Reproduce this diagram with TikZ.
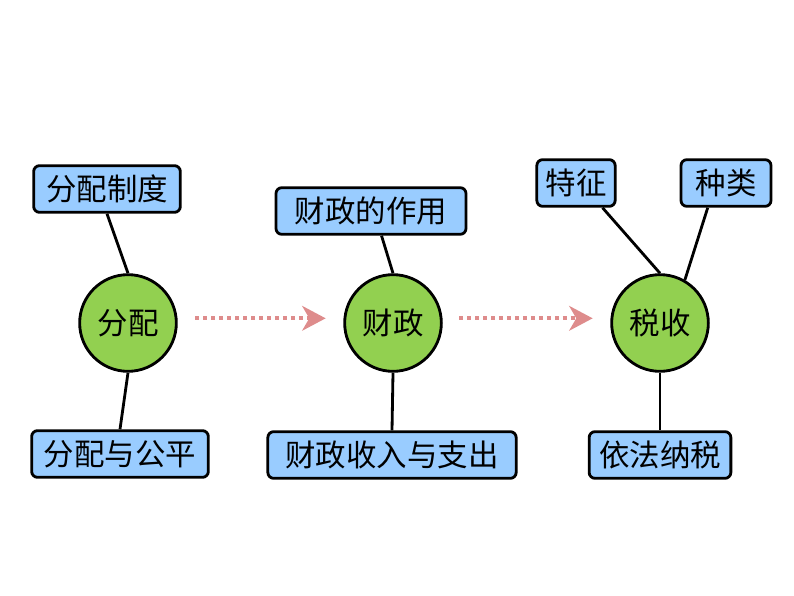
\documentclass[tikz,border=0pt]{standalone}
\usepackage{fontspec}
\setmainfont{Noto Sans CJK SC}
\usetikzlibrary{arrows.meta}
\definecolor{topicgreen}{RGB}{146,208,80}
\definecolor{itemblue}{RGB}{153,204,255}
\definecolor{flowpink}{RGB}{222,140,140}

\begin{document}
\begin{tikzpicture}[x=0.03cm, y=-0.03cm,
    topic/.style={circle, draw, line width=2.4pt, fill=topicgreen, minimum size=2.9cm, inner sep=0pt, font=\fontsize{26}{26}\selectfont},
    item/.style={rectangle, draw, rounded corners=5pt, line width=2.4pt, fill=itemblue, minimum height=1.4cm, inner sep=2pt, font=\fontsize{26}{26}\selectfont},
    link/.style={line width=2.4pt},
    flow/.style={flowpink, line width=3.4pt, dash pattern=on 3.4pt off 3.4pt, -{Stealth[length=20pt, width=21pt, inset=6pt]}}]
    \useasboundingbox (0,0) rectangle (794,596);
    % 分配
    \node[topic] (fp) at (128,323) {分配};
    \node[item, minimum width=4.4cm] (fpzd) at (107,189) {分配制度};
    \node[item, minimum width=5.3cm] (fpgp) at (120,454) {分配与公平};
    % 财政
    \node[topic] (cz) at (393,323) {财政};
    \node[item, minimum width=5.7cm] (czzy) at (371,211) {财政的作用};
    \node[item, minimum width=7.45cm] (czsz) at (392,455) {财政收入与支出};
    % 税收
    \node[topic] (ss) at (660,323) {税收};
    \node[item, minimum width=2.35cm] (sstz) at (576,183) {特征};
    \node[item, minimum width=2.7cm] (sszl) at (726,183) {种类};
    \node[item, minimum width=4.25cm] (ssyf) at (660,455) {依法纳税};
    \draw[link] (fpzd.south) -- (fp.north);
    \draw[link] (fp.south) -- (fpgp.north);
    \draw[link] ([xshift=9pt]czzy.south) -- (cz.north);
    \draw[link] (cz.south) -- (czsz.north);
    \draw[link] ([xshift=-12pt]sstz.south east) -- (ss.north);
    \draw[link] ([xshift=24pt]sszl.south west) -- (ss.60);
    \draw[link] (ss.south) -- (ssyf.north);
    \draw[flow, shorten <=15pt, shorten >=15pt] ([yshift=4pt]fp.east) -- ([yshift=4pt]cz.west);
    \draw[flow, shorten <=14pt, shorten >=15pt] ([yshift=4pt]cz.east) -- ([yshift=4pt]ss.west);
\end{tikzpicture}
\end{document}
